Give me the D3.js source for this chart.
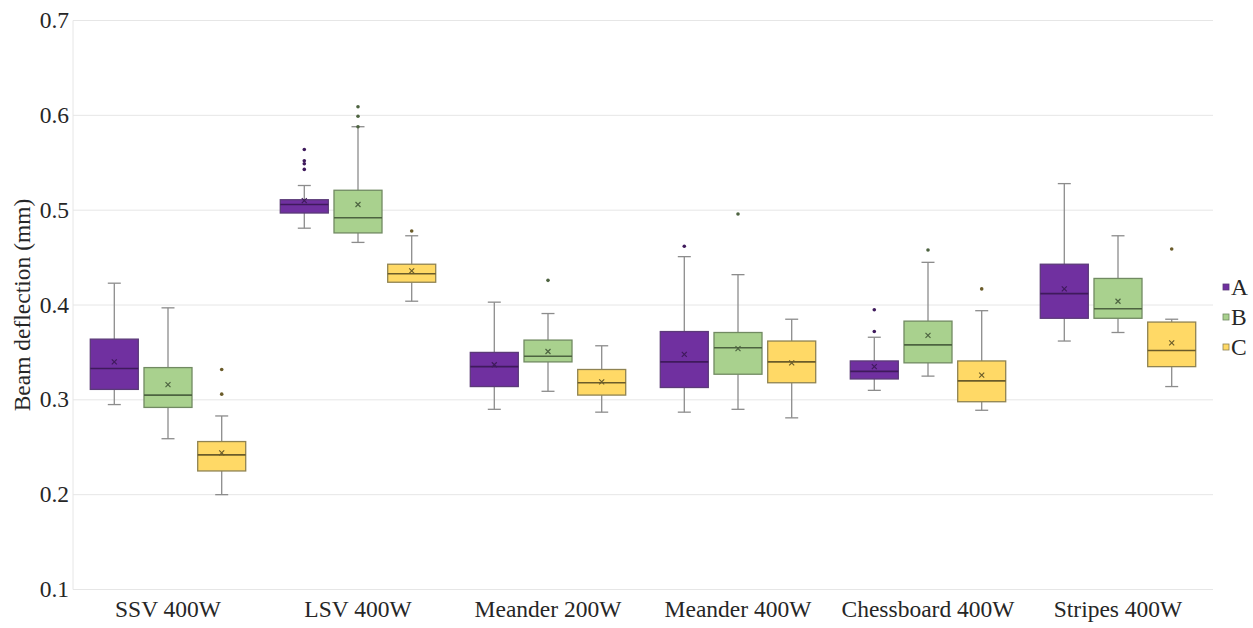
<!DOCTYPE html>
<html>
<head>
<meta charset="utf-8">
<script src="https://cdn.jsdelivr.net/npm/d3@7"></script>
</head>
<body style="margin:0">
<script>
const categories = ['SSV 400W', 'LSV 400W', 'Meander 200W', 'Meander 400W', 'Chessboard 400W', 'Stripes 400W']
const seriesNames = ['A', 'B', 'C']
const yTicks = [0.1, 0.2, 0.3, 0.4, 0.5, 0.6, 0.7]

// per category: [lower whisker, q1, median, q3, upper whisker, mean]
const statsA = [
  [0.295, 0.311, 0.333, 0.364, 0.423, 0.340],
  [0.481, 0.497, 0.506, 0.511, 0.526, 0.510],
  [0.290, 0.314, 0.335, 0.350, 0.403, 0.337],
  [0.287, 0.313, 0.340, 0.372, 0.451, 0.348],
  [0.310, 0.322, 0.330, 0.341, 0.366, 0.335],
  [0.362, 0.386, 0.412, 0.443, 0.528, 0.417]
]
const statsB = [
  [0.259, 0.292, 0.305, 0.334, 0.397, 0.316],
  [0.466, 0.476, 0.492, 0.521, 0.588, 0.506],
  [0.309, 0.340, 0.346, 0.363, 0.391, 0.351],
  [0.290, 0.327, 0.355, 0.371, 0.432, 0.354],
  [0.325, 0.339, 0.358, 0.383, 0.445, 0.368],
  [0.371, 0.386, 0.396, 0.428, 0.473, 0.404]
]
const statsC = [
  [0.200, 0.225, 0.242, 0.256, 0.283, 0.244],
  [0.404, 0.424, 0.433, 0.443, 0.473, 0.436],
  [0.287, 0.305, 0.318, 0.332, 0.357, 0.319],
  [0.281, 0.318, 0.340, 0.362, 0.385, 0.339],
  [0.289, 0.298, 0.320, 0.341, 0.394, 0.326],
  [0.314, 0.335, 0.352, 0.382, 0.385, 0.360]
]
const outliersA = [[], [0.543, 0.549, 0.552, 0.564], [], [0.462], [0.372, 0.395], []]
const outliersB = [[], [0.588, 0.599, 0.609], [0.426], [0.496], [0.458], []]
const outliersC = [[0.306, 0.332], [0.478], [], [], [0.417], [0.459]]

const fills = { A: '#7030a0', B: '#a9d18e', C: '#ffd966' }
const strokes = { A: '#5b3a78', B: '#718a62', C: '#8f8352' }
const darks = { A: '#3f1a5c', B: '#4d6340', C: '#6b5c2a' }

const FONT = 'Times New Roman'
const FSIZE = 23.5
const width = 1253
const height = 628
const plot = { left: 73, right: 1213, top: 20.5, bottom: 589.5 }

const svg = d3.select('body').append('svg')
  .attr('width', width)
  .attr('height', height)

const y = d3.scaleLinear().domain([0.1, 0.7]).range([plot.bottom, plot.top])
const x = d3.scaleBand().domain(categories).range([plot.left, plot.right])
const xs = d3.scaleBand().domain(seriesNames).range([0, x.bandwidth()])
  .paddingInner(0.106).paddingOuter(0.322)

function label (sel) {
  sel.attr('fill', '#262626')
    .attr('font-size', FSIZE)
    .style('font-family', FONT)
}

// grid lines and y tick labels
const grid = svg.append('g')
grid.selectAll('line')
  .data(yTicks)
  .join('line')
  .attr('x1', plot.left).attr('x2', plot.right)
  .attr('y1', d => y(d)).attr('y2', d => y(d))
  .attr('stroke', '#e6e6e6')
svg.append('line')
  .attr('x1', plot.left).attr('x2', plot.left)
  .attr('y1', plot.top).attr('y2', plot.bottom)
  .attr('stroke', '#e6e6e6')
grid.selectAll('text')
  .data(yTicks)
  .join('text')
  .attr('x', plot.left - 4)
  .attr('y', d => y(d))
  .attr('dy', '0.32em')
  .attr('text-anchor', 'end')
  .call(label)
  .text(d3.format('.1f'))

svg.append('g')
  .selectAll('text')
  .data(categories)
  .join('text')
  .attr('x', d => x(d) + x.bandwidth() / 2)
  .attr('y', plot.bottom + 27)
  .attr('text-anchor', 'middle')
  .call(label)
  .text(d => d)

svg.append('text')
  .attr('transform', `translate(30,${(plot.top + plot.bottom) / 2}) rotate(-90)`)
  .attr('text-anchor', 'middle')
  .call(label)
  .text('Beam deflection (mm)')

const seriesData = [
  { name: 'A', stats: statsA, outliers: outliersA },
  { name: 'B', stats: statsB, outliers: outliersB },
  { name: 'C', stats: statsC, outliers: outliersC }
]

const boxes = []
seriesData.forEach(s => {
  s.stats.forEach((st, i) => {
    boxes.push({
      series: s.name,
      category: categories[i],
      low: st[0], q1: st[1], med: st[2], q3: st[3], high: st[4], mean: st[5],
      outliers: s.outliers[i]
    })
  })
})

const bw = xs.bandwidth()
const capW = 13

const g = svg.append('g')
  .selectAll('g.box')
  .data(boxes)
  .join('g')
  .attr('class', 'box')
  .attr('transform', d => `translate(${x(d.category) + xs(d.series)},0)`)

// whiskers
g.append('line')
  .attr('x1', bw / 2).attr('x2', bw / 2)
  .attr('y1', d => y(d.high)).attr('y2', d => y(d.q3))
  .attr('stroke', '#8c8c8c').attr('stroke-width', 1.3)
g.append('line')
  .attr('x1', bw / 2).attr('x2', bw / 2)
  .attr('y1', d => y(d.q1)).attr('y2', d => y(d.low))
  .attr('stroke', '#8c8c8c').attr('stroke-width', 1.3)
g.append('line')
  .attr('x1', bw / 2 - capW / 2).attr('x2', bw / 2 + capW / 2)
  .attr('y1', d => y(d.high)).attr('y2', d => y(d.high))
  .attr('stroke', '#8c8c8c').attr('stroke-width', 1.3)
g.append('line')
  .attr('x1', bw / 2 - capW / 2).attr('x2', bw / 2 + capW / 2)
  .attr('y1', d => y(d.low)).attr('y2', d => y(d.low))
  .attr('stroke', '#8c8c8c').attr('stroke-width', 1.3)

// box
g.append('rect')
  .attr('x', 0)
  .attr('width', bw)
  .attr('y', d => y(d.q3))
  .attr('height', d => y(d.q1) - y(d.q3))
  .attr('fill', d => fills[d.series])
  .attr('stroke', d => strokes[d.series])
  .attr('stroke-width', 1.3)

// median
g.append('line')
  .attr('x1', 0).attr('x2', bw)
  .attr('y1', d => y(d.med)).attr('y2', d => y(d.med))
  .attr('stroke', d => darks[d.series]).attr('stroke-width', 1.6)

// mean marker
g.append('path')
  .attr('d', d => {
    const cx = bw / 2
    const cy = y(d.mean)
    const r = 2.5
    return `M${cx - r},${cy - r}L${cx + r},${cy + r}M${cx - r},${cy + r}L${cx + r},${cy - r}`
  })
  .attr('stroke', d => darks[d.series])
  .attr('stroke-width', 1.2)
  .attr('fill', 'none')

// outliers
g.selectAll('circle')
  .data(d => d.outliers.map(v => ({ v, series: d.series })))
  .join('circle')
  .attr('cx', bw / 2)
  .attr('cy', d => y(d.v))
  .attr('r', 1.8)
  .attr('fill', d => darks[d.series])

// legend
const legend = svg.append('g')
  .selectAll('g')
  .data(seriesNames)
  .join('g')
  .attr('transform', (d, i) => `translate(1223,${287 + i * 30})`)
legend.append('rect')
  .attr('x', 0).attr('y', -3).attr('width', 6).attr('height', 6)
  .attr('fill', d => fills[d])
  .attr('stroke', d => strokes[d]).attr('stroke-width', 0.8)
legend.append('text')
  .attr('x', 8)
  .attr('dy', '0.35em')
  .call(label)
  .text(d => d)
</script>
</body>
</html>
